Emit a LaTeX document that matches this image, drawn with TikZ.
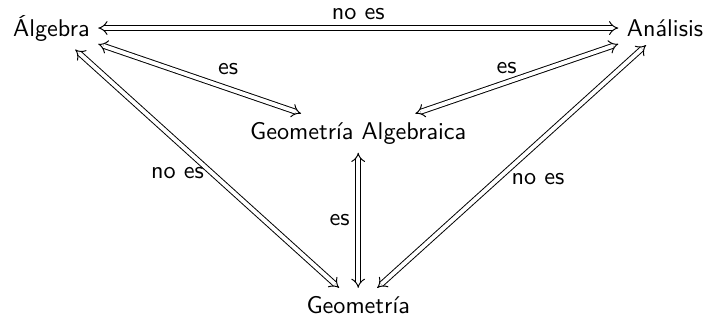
\documentclass[tikz,border=0pt]{standalone}
\usepackage{amsmath,amssymb}
\usepackage{xcolor}
\usepackage{tikz}
\usetikzlibrary{arrows.meta,positioning,calc}

\begin{document}
\begin{tikzpicture}[scale=0.922,font=\sffamily,
  dbl/.style={{Implies}-{Implies},double,double distance=1.6pt}]
  \useasboundingbox (0,0) rectangle (11.1,5.056);
  % the four fields
  \node (alg) at (0.81,4.615) {Álgebra};
  \node (ana) at (10.47,4.615) {Análisis};
  \node (ga) at (5.64,2.96) {Geometría Algebraica};
  \node (geo) at (5.64,0.252) {Geometría};
  % relations
  \draw[dbl] (alg) -- (ana) node[midway,above]{no es};
  \draw[dbl] (alg) -- (ga) node[pos=0.64,above,yshift=2pt]{es};
  \draw[dbl] (ana) -- (ga) node[pos=0.55,above]{es};
  \draw[dbl] (alg) -- (geo) node[pos=0.52,left]{no es};
  \draw[dbl] (ana) -- (geo) node[pos=0.55,right,xshift=2pt]{no es};
  \draw[dbl] (ga.south) -- (geo.north) node[midway,left]{es};
\end{tikzpicture}
\end{document}
